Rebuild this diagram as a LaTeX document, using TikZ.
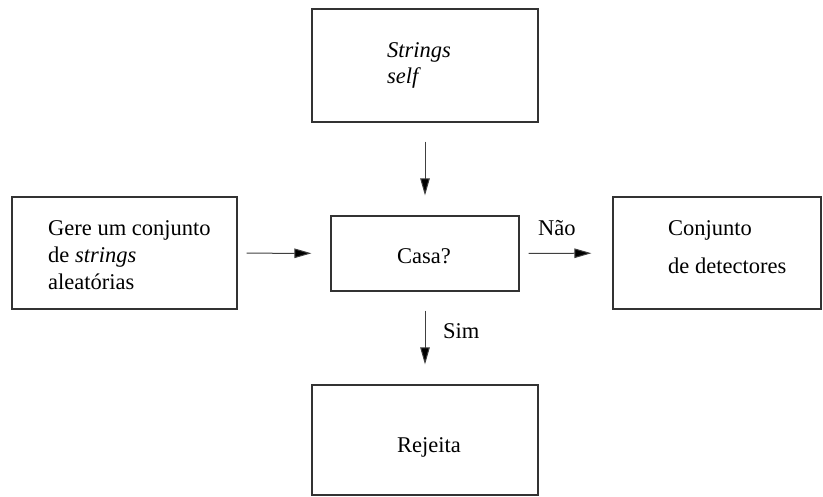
\documentclass[tikz,border=0pt]{standalone}
\usepackage{fontspec}
\setmainfont{Liberation Serif}
\usetikzlibrary{arrows.meta}
\begin{document}
\begin{tikzpicture}[x=1pt,y=-1pt,
  box/.style={draw=black!80, line width=1.2pt, minimum width=#1, inner sep=0pt},
  conn/.style={draw=black!75, line width=1pt, -{Triangle[length=17pt,width=9.5pt,fill=black]}},
  txt/.style={anchor=base west, inner sep=0pt, font=\fontsize{22.5}{26}\selectfont},
]
\useasboundingbox (0,0) rectangle (823,496);
% boxes
\node[box=226pt, minimum height=113pt] (top) at (425,65.5) {};
\node[box=225pt, minimum height=112pt] (left) at (124.5,253) {};
\node[box=188pt, minimum height=75pt] (mid) at (425,253.5) {};
\node[box=208pt, minimum height=112pt] (right) at (717,253) {};
\node[box=226pt, minimum height=110pt] (bot) at (425,440) {};
% texts
\node[txt] (t1) at (387,57) {\itshape Strings};
\node[txt] (t2) at (387,83) {\itshape self};
\node[txt] (l1) at (48,235) {Gere um conjunto};
\node[txt] (l2) at (48,262) {de \textit{strings}};
\node[txt] (l3) at (48,289) {aleatórias};
\node[txt] (m1) at (397,263) {Casa?};
\node[txt] (r1) at (668,235) {Conjunto};
\node[txt] (r2) at (668,273) {de detectores};
\node[txt] (b1) at (397,452) {Rejeita};
\node[txt] (nao) at (538,235) {Não};
\node[txt] (sim) at (443,338) {Sim};
% connectors
\draw[conn, shorten <=19pt, shorten >=20pt] (top) -- (mid);
\draw[conn, shorten <=9pt, shorten >=19pt] (left) -- (mid);
\draw[conn, shorten <=9pt, shorten >=21pt] (mid) -- (right);
\draw[conn, shorten <=19pt, shorten >=20pt] (mid) -- (bot);
\end{tikzpicture}
\end{document}
